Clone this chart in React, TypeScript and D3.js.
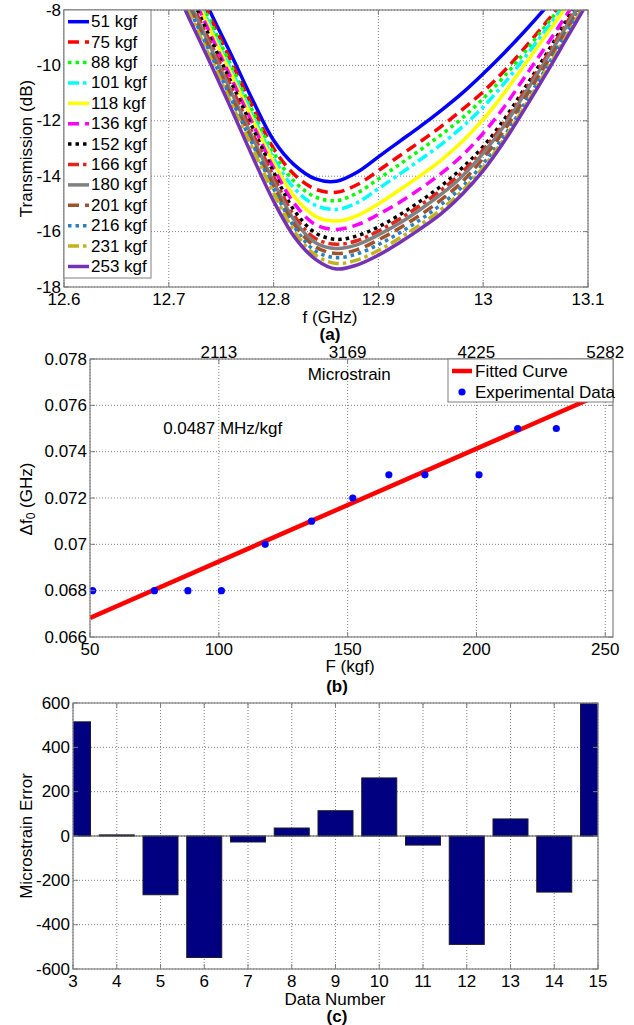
import React from "react";
import * as d3 from "d3";

const FONT = "Arial, 'Liberation Sans', Helvetica, sans-serif";
const FS = 17;
const AXIS = "#7f7f7f";
const GRID = "#808080";

// (a) transmission spectra, one curve per applied load
const freqGHz = [12.7, 12.72, 12.74, 12.76, 12.78, 12.8, 12.82, 12.84, 12.86, 12.88, 12.9, 12.92, 12.94, 12.96, 12.98, 13.0, 13.02, 13.04, 13.06, 13.08, 13.1];
const loadLabels = ["51 kgf", "75 kgf", "88 kgf", "101 kgf", "118 kgf", "136 kgf", "152 kgf", "166 kgf", "180 kgf", "201 kgf", "216 kgf", "231 kgf", "253 kgf"];
const t51 = [-4.8, -6.45, -8.1, -9.65, -11.25, -12.7, -13.6, -14.1, -14.18, -13.85, -13.3, -12.75, -12.2, -11.62, -11.0, -10.3, -9.55, -8.75, -7.9, -7.0, -6.1];
const t75 = [-5.0, -6.65, -8.3, -9.9, -11.5, -13.0, -13.95, -14.47, -14.58, -14.3, -13.8, -13.27, -12.75, -12.2, -11.6, -10.95, -10.2, -9.35, -8.45, -7.5, -6.55];
const t88 = [-5.15, -6.8, -8.45, -10.05, -11.65, -13.15, -14.2, -14.75, -14.88, -14.6, -14.1, -13.58, -13.05, -12.5, -11.9, -11.2, -10.4, -9.5, -8.55, -7.6, -6.6];
const t101 = [-5.3, -7.0, -8.6, -10.2, -11.8, -13.35, -14.45, -15.05, -15.2, -14.95, -14.45, -13.93, -13.4, -12.85, -12.22, -11.5, -10.65, -9.7, -8.7, -7.7, -6.7];
const t118 = [-5.45, -7.1, -8.75, -10.35, -11.95, -13.5, -14.75, -15.45, -15.62, -15.42, -15.0, -14.5, -13.98, -13.42, -12.75, -11.95, -11.0, -9.95, -8.9, -7.85, -6.8];
const t136 = [-5.6, -7.25, -8.9, -10.5, -12.1, -13.7, -15.0, -15.75, -15.92, -15.75, -15.38, -14.95, -14.45, -13.9, -13.25, -12.45, -11.5, -10.4, -9.3, -8.15, -7.0];
const t152 = [-5.8, -7.4, -9.05, -10.65, -12.25, -13.85, -15.25, -16.05, -16.28, -16.15, -15.83, -15.4, -14.9, -14.35, -13.7, -12.93, -11.95, -10.8, -9.6, -8.35, -7.1];
const t166 = [-5.9, -7.6, -9.2, -10.8, -12.45, -14.0, -15.45, -16.25, -16.46, -16.32, -15.98, -15.55, -15.05, -14.5, -13.85, -13.05, -12.08, -10.9, -9.7, -8.45, -7.2];
const t180 = [-6.1, -7.75, -9.35, -11.0, -12.6, -14.2, -15.6, -16.4, -16.61, -16.47, -16.12, -15.7, -15.2, -14.65, -14.0, -13.17, -12.18, -11.0, -9.8, -8.55, -7.3];
const t201 = [-6.25, -7.9, -9.5, -11.15, -12.75, -14.35, -15.75, -16.55, -16.79, -16.65, -16.3, -15.88, -15.4, -14.85, -14.2, -13.35, -12.35, -11.17, -9.95, -8.7, -7.45];
const t216 = [-6.35, -8.0, -9.6, -11.25, -12.85, -14.45, -15.85, -16.7, -16.94, -16.8, -16.47, -16.05, -15.57, -15.02, -14.38, -13.55, -12.55, -11.35, -10.1, -8.8, -7.5];
const t231 = [-6.5, -8.15, -9.75, -11.4, -13.0, -14.6, -16.0, -16.85, -17.15, -17.02, -16.68, -16.24, -15.75, -15.2, -14.53, -13.68, -12.65, -11.45, -10.2, -8.9, -7.6];
const t253 = [-6.7, -8.35, -9.95, -11.6, -13.3, -14.9, -16.2, -17.0, -17.35, -17.2, -16.85, -16.4, -15.9, -15.35, -14.65, -13.8, -12.75, -11.55, -10.3, -9.0, -7.7];
const transmissionDb = [t51, t75, t88, t101, t118, t136, t152, t166, t180, t201, t216, t231, t253];
const freqTicks = [12.6, 12.7, 12.8, 12.9, 13, 13.1];
const dbTicks = [-18, -16, -14, -12, -10, -8];

const SOLID = "none";
const DASH = "11,6";
const DOT = "3.5,4";
const DASHDOT = "11,4,3.5,4";
const lineColors = ["#0000ff", "#ff0000", "#00ff00", "#00ffff", "#ffff00", "#ff00ff", "#000000", "#e3261c", "#808080", "#a0522d", "#2a80c0", "#c0b41c", "#7532b5"];
const lineDashes = [SOLID, DASH, DOT, DASHDOT, SOLID, DASH, DOT, DASHDOT, SOLID, DASH, DOT, DASHDOT, SOLID];

// (b) resonance shift vs force
const forceKgf = [51, 75, 88, 101, 118, 136, 152, 166, 180, 201, 216, 231, 253];
const shiftGHz = [0.068, 0.068, 0.068, 0.068, 0.07, 0.071, 0.072, 0.073, 0.073, 0.073, 0.075, 0.075, 0.078];
const fitSlope = 0.0000487; // GHz per kgf
const fitIntercept = 0.06439;
const forceTicks = [50, 100, 150, 200, 250];
const shiftTicks = [0.066, 0.068, 0.07, 0.072, 0.074, 0.076, 0.078];
const microstrainTicks = [2113, 3169, 4225, 5282];
const microstrainPerKgf = 21.13;

// (c) microstrain error
const dataNumber = [3, 4, 5, 6, 7, 8, 9, 10, 11, 12, 13, 14, 15];
const microstrainError = [515, 5, -265, -548, -27, 36, 114, 262, -41, -489, 77, -253, 597];
const errorTicks = [-600, -400, -200, 0, 200, 400, 600];

type Lin = d3.ScaleLinear<number, number>;

function Grid({ x, y, xt, yt }: { x: Lin; y: Lin; xt: number[]; yt: number[] }) {
  const [x0, x1] = x.range();
  const [yb, ytp] = y.range();
  return (
    <g stroke={GRID} strokeWidth={1} strokeDasharray="1,2">
      {xt.map((t) => (
        <line key={"x" + t} x1={x(t)} x2={x(t)} y1={yb} y2={ytp} />
      ))}
      {yt.map((t) => (
        <line key={"y" + t} x1={x0} x2={x1} y1={y(t)} y2={y(t)} />
      ))}
    </g>
  );
}

function Frame({ x, y, xt, yt, topTicks = true }: { x: Lin; y: Lin; xt: number[]; yt: number[]; topTicks?: boolean }) {
  const [x0, x1] = x.range();
  const [yb, ytp] = y.range();
  const L = 5;
  return (
    <g>
      <rect x={x0} y={ytp} width={x1 - x0} height={yb - ytp} fill="none" stroke={AXIS} strokeWidth={1.2} />
      <g stroke={AXIS} strokeWidth={1}>
        {xt.map((t) => (
          <g key={"xt" + t}>
            <line x1={x(t)} x2={x(t)} y1={yb} y2={yb - L} />
            {topTicks && <line x1={x(t)} x2={x(t)} y1={ytp} y2={ytp + L} />}
          </g>
        ))}
        {yt.map((t) => (
          <g key={"yt" + t}>
            <line x1={x0} x2={x0 + L} y1={y(t)} y2={y(t)} />
            <line x1={x1} x2={x1 - L} y1={y(t)} y2={y(t)} />
          </g>
        ))}
      </g>
      <g fontFamily={FONT} fontSize={FS} fill="#000">
        {xt.map((t) => (
          <text key={"xl" + t} x={x(t)} y={yb + 12} textAnchor="middle" dominantBaseline="central">
            {String(t)}
          </text>
        ))}
        {yt.map((t) => (
          <text key={"yl" + t} x={x0 - 3} y={y(t)} textAnchor="end" dominantBaseline="central">
            {String(t)}
          </text>
        ))}
      </g>
    </g>
  );
}

export default function App() {
  // ---------- panel (a)
  const ax = d3.scaleLinear().domain([12.6, 13.1]).range([64, 588]);
  const ay = d3.scaleLinear().domain([-18, -8]).range([287, 10]);
  const spectrum = d3
    .line<number>()
    .x((_, i) => ax(freqGHz[i]))
    .y((d) => ay(d))
    .curve(d3.curveCatmullRom.alpha(0.5));

  // ---------- panel (b)
  const bx = d3.scaleLinear().domain([50, 253]).range([90, 613]);
  const by = d3.scaleLinear().domain([0.066, 0.078]).range([637, 359]);
  const bxTop = d3
    .scaleLinear()
    .domain([50 * microstrainPerKgf, 253 * microstrainPerKgf])
    .range([90, 613]);
  const [f0, f1] = bx.domain();
  const fitLine = d3
    .line<number>()
    .x((f) => bx(f))
    .y((f) => by(fitIntercept + fitSlope * f));

  // ---------- panel (c)
  const cx = d3.scaleLinear().domain([3, 15]).range([73, 598]);
  const cy = d3.scaleLinear().domain([-600, 600]).range([969, 703]);
  const barW = cx(3.4) - cx(2.6);

  return (
    <svg width={634} height={1025} style={{ position: "absolute", left: 0, top: 0, background: "#fff" }}>
      <defs>
        <clipPath id="clipA">
          <rect x={64} y={10} width={524} height={277} />
        </clipPath>
        <clipPath id="clipB">
          <rect x={90} y={359} width={523} height={278} />
        </clipPath>
        <clipPath id="clipC">
          <rect x={73} y={703} width={525} height={266} />
        </clipPath>
      </defs>
      <rect x={0} y={0} width={634} height={1025} fill="#fff" />

      {/* ---------------- (a) ---------------- */}
      <Grid x={ax} y={ay} xt={freqTicks} yt={dbTicks} />
      <g clipPath="url(#clipA)" fill="none" strokeWidth={3.5} strokeLinecap="butt">
        {transmissionDb.map((s, i) => (
          <path key={i} d={spectrum(s) || ""} stroke={lineColors[i]} strokeDasharray={lineDashes[i]} />
        ))}
      </g>
      <Frame x={ax} y={ay} xt={freqTicks} yt={dbTicks} />
      <g>
        <rect x={64} y={10} width={87} height={268} fill="#fff" stroke={AXIS} strokeWidth={1} />
        {loadLabels.map((lab, i) => {
          const yy = 21.7 + i * 20.4;
          return (
            <g key={lab}>
              <line x1={68} x2={89} y1={yy} y2={yy} stroke={lineColors[i]} strokeWidth={3.5} strokeDasharray={lineDashes[i]} />
              <text x={91} y={yy} fontFamily={FONT} fontSize={FS} dominantBaseline="central">
                {lab}
              </text>
            </g>
          );
        })}
      </g>
      <text transform="translate(26,148.5) rotate(-90)" textAnchor="middle" dominantBaseline="central" fontFamily={FONT} fontSize={FS}>
        Transmission (dB)
      </text>
      <text x={330} y={317} textAnchor="middle" dominantBaseline="central" fontFamily={FONT} fontSize={FS}>
        f (GHz)
      </text>
      <text x={330} y={334} textAnchor="middle" dominantBaseline="central" fontFamily={FONT} fontSize={FS} fontWeight="bold">
        (a)
      </text>

      {/* ---------------- (b) ---------------- */}
      <Grid x={bx} y={by} xt={forceTicks} yt={shiftTicks} />
      <g clipPath="url(#clipB)">
        <path d={fitLine([f0, f1]) || ""} stroke="#ff0000" strokeWidth={4.5} fill="none" />
        {forceKgf.map((f, i) => (
          <circle key={i} cx={bx(f)} cy={by(shiftGHz[i])} r={3.6} fill="#0000ff" />
        ))}
      </g>
      <Frame x={bx} y={by} xt={forceTicks} yt={shiftTicks} topTicks={false} />
      <g stroke={AXIS} strokeWidth={1}>
        {microstrainTicks.map((t) => (
          <line key={t} x1={bxTop(t)} x2={bxTop(t)} y1={359} y2={364} />
        ))}
      </g>
      <g fontFamily={FONT} fontSize={FS}>
        {microstrainTicks.map((t) => (
          <text key={t} x={bxTop(t)} y={352} textAnchor="middle" dominantBaseline="central">
            {String(t)}
          </text>
        ))}
        <text x={bx(134.5)} y={by(0.07735)} dominantBaseline="central">
          Microstrain
        </text>
        <text x={bx(78.4)} y={by(0.075)} dominantBaseline="central">
          0.0487 MHz/kgf
        </text>
      </g>
      <g>
        <rect x={448} y={359} width={165} height={43} fill="#fff" stroke={AXIS} strokeWidth={1} />
        <line x1={452} x2={472} y1={371} y2={371} stroke="#ff0000" strokeWidth={4.5} />
        <circle cx={462} cy={392} r={3.6} fill="#0000ff" />
        <text x={475} y={371} fontFamily={FONT} fontSize={FS} dominantBaseline="central">
          Fitted Curve
        </text>
        <text x={475} y={392} fontFamily={FONT} fontSize={FS} dominantBaseline="central">
          Experimental Data
        </text>
      </g>
      <text transform="translate(26,499) rotate(-90)" textAnchor="middle" dominantBaseline="central" fontFamily={FONT} fontSize={FS}>
        Δf
        <tspan fontSize={12} dy={5}>
          0
        </tspan>
        <tspan dy={-5}> (GHz)</tspan>
      </text>
      <text x={350} y={666} textAnchor="middle" dominantBaseline="central" fontFamily={FONT} fontSize={FS}>
        F (kgf)
      </text>
      <text x={337} y={686} textAnchor="middle" dominantBaseline="central" fontFamily={FONT} fontSize={FS} fontWeight="bold">
        (b)
      </text>

      {/* ---------------- (c) ---------------- */}
      <Grid x={cx} y={cy} xt={dataNumber} yt={errorTicks} />
      <g clipPath="url(#clipC)">
        {dataNumber.map((n, i) => {
          const v = microstrainError[i];
          return (
            <rect
              key={n}
              x={cx(n) - barW / 2}
              y={cy(Math.max(0, v))}
              width={barW}
              height={Math.abs(cy(v) - cy(0))}
              fill="#000080"
              stroke="#1a1a2a"
              strokeWidth={1}
            />
          );
        })}
      </g>
      <line x1={73} x2={598} y1={cy(0)} y2={cy(0)} stroke="#555" strokeWidth={1} />
      <Frame x={cx} y={cy} xt={dataNumber} yt={errorTicks} />
      <text transform="translate(26,836) rotate(-90)" textAnchor="middle" dominantBaseline="central" fontFamily={FONT} fontSize={FS}>
        Microstrain Error
      </text>
      <text x={335} y={999} textAnchor="middle" dominantBaseline="central" fontFamily={FONT} fontSize={FS}>
        Data Number
      </text>
      <text x={337} y={1016} textAnchor="middle" dominantBaseline="central" fontFamily={FONT} fontSize={FS} fontWeight="bold">
        (c)
      </text>
    </svg>
  );
}
